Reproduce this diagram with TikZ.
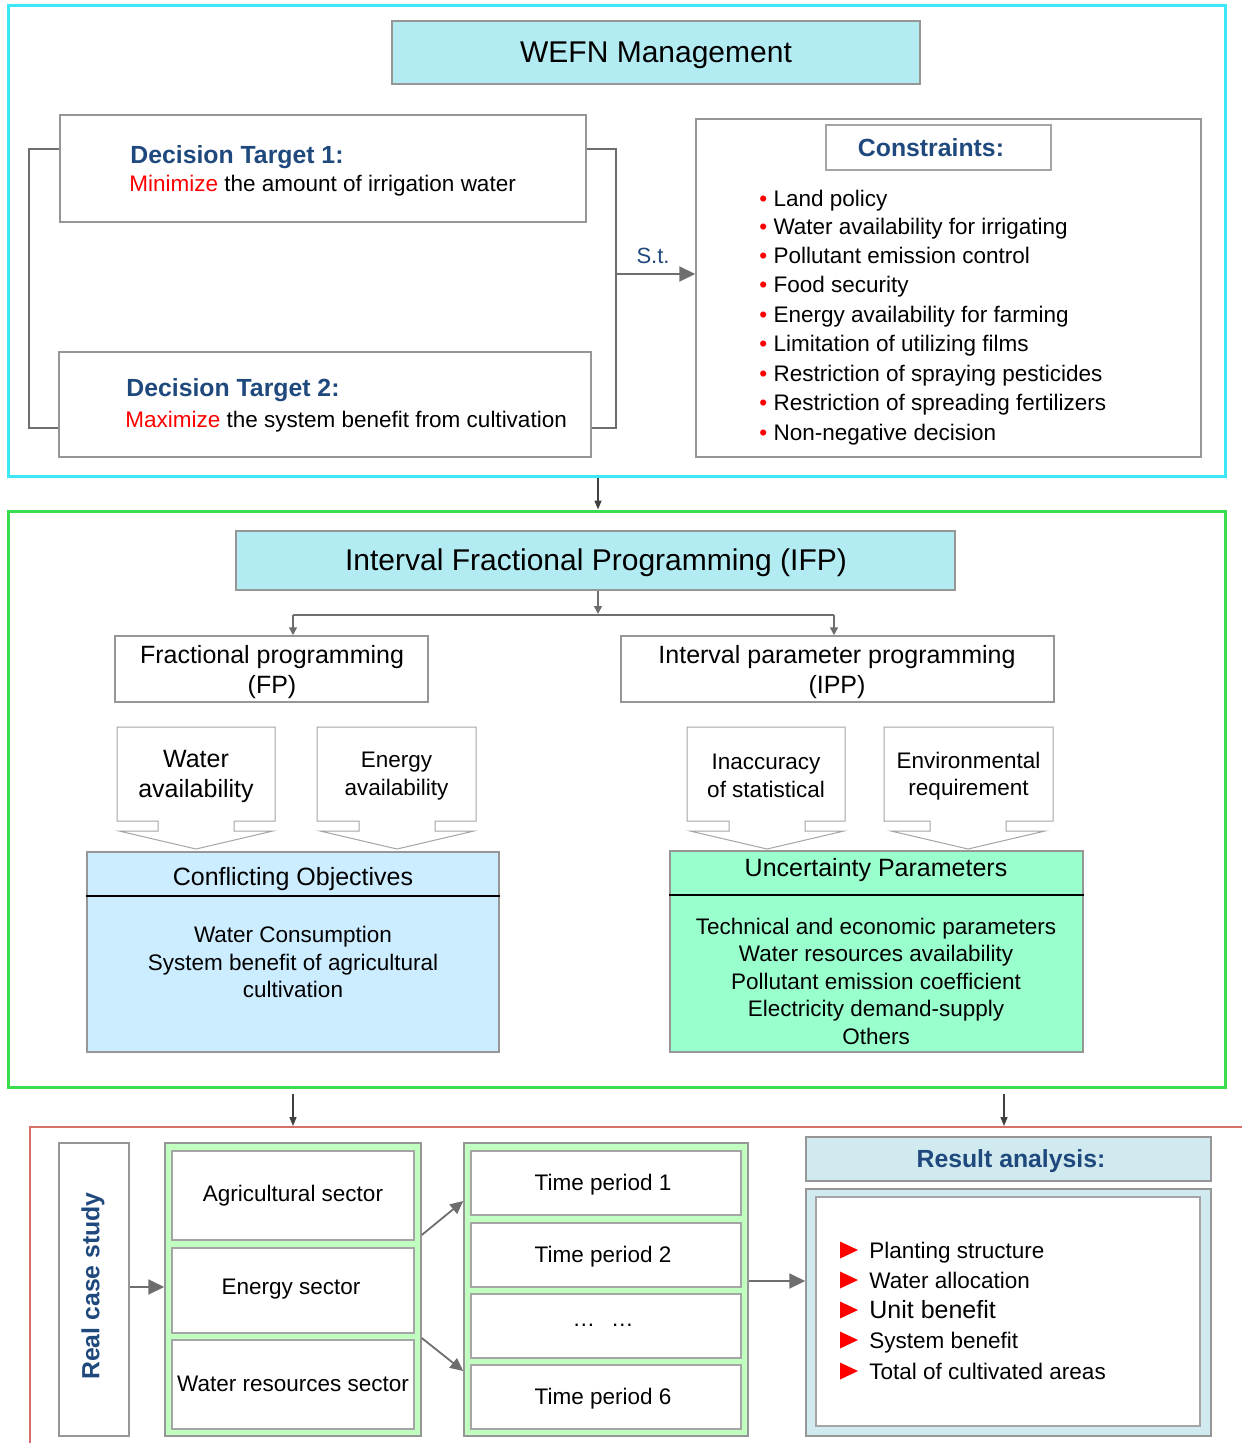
\documentclass[tikz,border=0pt]{standalone}
\usepackage{fontspec}
\setmainfont{Liberation Sans}
\usetikzlibrary{arrows.meta,fit,calc}
\definecolor{cyanline}{RGB}{60,232,245}
\definecolor{greenline}{RGB}{60,220,80}
\definecolor{redline}{RGB}{214,112,104}
\definecolor{lcyan}{RGB}{178,235,242}
\definecolor{dblue}{RGB}{31,73,125}
\definecolor{bgray}{RGB}{150,150,150}
\definecolor{cgray}{RGB}{165,165,165}
\definecolor{agray}{RGB}{110,110,110}
\definecolor{dgray}{RGB}{64,64,64}
\definecolor{lblue}{RGB}{204,236,255}
\definecolor{mint}{RGB}{153,255,204}
\definecolor{lgreen}{RGB}{192,255,192}
\definecolor{rbg}{RGB}{209,234,240}
\tikzset{
  frame/.style={line width=1.5pt, inner sep=0pt},
  box/.style={draw=bgray, line width=0.75pt, inner sep=0pt},
  ibox/.style={draw=cgray, line width=0.6pt, fill=white, inner sep=0pt},
  cbox/.style={draw=cgray, line width=0.5pt, fill=white},
  t11/.style={font=\fontsize{11.25}{13.75}\selectfont, align=center, inner sep=0pt},
  t12/.style={font=\fontsize{12.5}{15}\selectfont, align=center, inner sep=0pt},
  t15/.style={font=\fontsize{15}{18}\selectfont, align=center, inner sep=0pt},
  tb/.style={font=\fontsize{12.4}{15}\selectfont\bfseries, text=dblue, inner sep=0pt},
  s11/.style={t11, text height=8.06pt, text depth=0pt},
  s12/.style={t12, text height=8.95pt, text depth=0pt},
  s15/.style={t15, text height=10.74pt, text depth=0pt},
  sb/.style={tb, text height=8.88pt, text depth=0pt},
  garrow/.style={draw=agray, line width=0.75pt, -{Triangle[length=4pt,width=4pt]}},
  darrow/.style={draw=dgray, line width=0.75pt, -{Triangle[length=4.5pt,width=3.5pt]}},
  barrow/.style={draw=agray, line width=1pt, -{Triangle[length=8pt,width=7.5pt]}},
  marrow/.style={draw=agray, line width=0.9pt, -{Triangle[length=6.5pt,width=6pt]}},
  gline/.style={draw=agray, line width=0.75pt},
}
\newcommand\mycallout[6]{%
  \draw[cbox] (#2,727) -- (#3,727) -- (#3,821) -- ({#4+38},821) -- ({#4+38},831)
    -- ({#4+77},831) -- (#4,849) -- ({#4-77},831) -- ({#4-38},831) -- ({#4-38},821)
    -- (#2,821) -- cycle;
  \node[#5] (#1) at ({(#2+#3)/2},776) {#6};
}
\begin{document}
\begin{tikzpicture}[x=0.5pt,y=-0.5pt]
\useasboundingbox (0,0) rectangle (1241,1443);

% ---------- top section ----------
\node[frame, draw=cyanline, fit={(8,6)(1225,476)}] (top) {};
\node[box, fill=lcyan, fit={(392,21)(920,84)}] (wefn) {};
\node[s15] (wefnt) at (656,52) {WEFN Management};

\node[box, fit={(60,115)(586,222)}] (dt1) {};
\node[sb, anchor=west] (dt1a) at (130,155) {Decision Target 1:};
\node[s11, anchor=west] (dt1b) at (129,183) {\textcolor{red}{Minimize} the amount of irrigation water};

\node[box, fit={(59,352)(591,457)}] (dt2) {};
\node[sb, anchor=west] (dt2a) at (126,388) {Decision Target 2:};
\node[s11, anchor=west] (dt2b) at (125,419) {\textcolor{red}{Maximize} the system benefit from cultivation};

\coordinate (b1) at (29,149);
\coordinate (b2) at (29,428);
\coordinate (b3) at (616,149);
\coordinate (b4) at (616,428);
\coordinate (st) at (616,274);
\draw[gline] (dt1.west |- b1) -- (b1) -- (b2) -- (dt2.west |- b2);
\draw[gline] (dt1.east |- b3) -- (b3) -- (b4) -- (dt2.east |- b4);

\node[box, fit={(696,119)(1201,457)}] (cons) {};
\node[box, draw=cgray, fit={(826,125)(1051,170)}] (ctitle) {};
\node[sb] (ctitlet) at (931,148) {Constraints:};
\draw[barrow] (st) -- (cons.west |- st);
\node[font=\fontsize{11}{13}\selectfont, text=dblue, inner sep=0pt, text height=7.9pt, text depth=0pt] (stl) at (653,256) {S.t.};

\foreach \yy/\txt [count=\i] in {198/Land policy, 226/Water availability for irrigating,
  255/Pollutant emission control, 284/Food security, 314/Energy availability for farming,
  343/Limitation of utilizing films, 373/Restriction of spraying pesticides,
  402/Restriction of spreading fertilizers, 432/Non-negative decision}
  \node[s11, anchor=west] (c\i) at (759,\yy) {\textcolor{red}{•} \txt};

% ---------- middle section ----------
\coordinate (mx) at (598,0);
\node[frame, draw=greenline, fit={(8,511)(1225,1087)}] (mid) {};
\draw[darrow] (top.south -| mx) -- (mid.north -| mx);

\node[box, fill=lcyan, fit={(236,531)(955,590)}] (ifp) {};
\node[s15] (ifpt) at (596,560) {Interval Fractional Programming (IFP)};

\node[box, fit={(115,636)(428,702)}] (fp) {};
\node[t12] (fpt) at (272,672) {Fractional programming\\(FP)};
\node[box, fit={(621,636)(1054,702)}] (ipp) {};
\node[t12] (ippt) at (837,672) {Interval parameter programming\\(IPP)};

\coordinate (j) at (598,614);
\coordinate (jl) at (293,615);
\coordinate (jr) at (834,615);
\draw[garrow] (ifp.south -| j) -- (j);
\draw[gline] (jl) -- (jr);
\draw[garrow] (jl) -- (fp.north -| jl);
\draw[garrow] (jr) -- (ipp.north -| jr);

\mycallout{wa}{117}{275}{196}{t12}{Water\\availability}
\mycallout{ea}{317}{476}{397}{t11}{Energy\\availability}
\mycallout{ia}{687}{845}{767}{t11}{Inaccuracy\\of statistical}
\mycallout{er}{884}{1053}{968}{t11}{Environmental\\requirement}

\node[box, fill=lblue, fit={(87,852)(499,1052)}] (co) {};
\draw[black, line width=0.9pt] (co.west |- 0,896) -- (co.east |- 0,896);
\node[s12] (cot) at (293,877) {Conflicting Objectives};
\node[t11] (cob) at (293,962) {Water Consumption\\System benefit of agricultural\\cultivation};

\node[box, fill=mint, fit={(670,851)(1083,1052)}] (up) {};
\draw[black, line width=0.9pt] (up.west |- 0,895) -- (up.east |- 0,895);
\node[s12] (upt) at (876,868) {Uncertainty Parameters};
\node[t11] (upb) at (876,981) {Technical and economic parameters\\Water resources availability\\Pollutant emission coefficient\\Electricity demand-supply\\Others};

% ---------- bottom section ----------
\draw[redline, line width=1.25pt] (30,1447) -- (30,1127) -- (1245,1127);
\coordinate (g1) at (293,1094);
\coordinate (r1) at (293,1126);
\coordinate (g2) at (1004,1094);
\coordinate (r2) at (1004,1126);
\draw[darrow] (g1) -- (r1);
\draw[darrow] (g2) -- (r2);

\node[box, fit={(59,1143)(129,1436)}] (rcs) {};
\node[tb, rotate=90] (rcst) at (93,1286) {Real case study};

\node[box, fill=lgreen, fit={(165,1143)(421,1436)}] (sec) {};
\node[ibox, fit={(172,1151)(414,1240)}] (s1) {};
\node[ibox, fit={(172,1248)(414,1333)}] (s2) {};
\node[ibox, fit={(172,1340)(414,1429)}] (s3) {};
\node[s11] (s1t) at (293,1193) {Agricultural sector};
\node[s11] (s2t) at (291,1286) {Energy sector};
\node[s11] (s3t) at (293,1383) {Water resources sector};

\node[box, fill=lgreen, fit={(464,1143)(748,1436)}] (tim) {};
\node[ibox, fit={(471,1151)(741,1215)}] (t1) {};
\node[ibox, fit={(471,1223)(741,1287)}] (t2) {};
\node[ibox, fit={(471,1294)(741,1358)}] (t3) {};
\node[ibox, fit={(471,1365)(741,1429)}] (t4) {};
\node[s11] (t1t) at (603,1182) {Time period 1};
\node[s11] (t2t) at (603,1254) {Time period 2};
\node[t11] (t3t) at (603,1325) {…\hspace{8pt}…};
\node[s11] (t4t) at (603,1396) {Time period 6};

\node[box, fill=rbg, fit={(806,1137)(1211,1181)}] (rh) {};
\node[sb] (rht) at (1011,1159) {Result analysis:};
\node[box, fill=rbg, fit={(806,1189)(1211,1436)}] (rb) {};
\node[ibox, fit={(816,1197)(1200,1426)}] (rbi) {};
\foreach \yy/\txt/\st [count=\i] in {1250/Planting structure/s11, 1280/Water allocation/s11,
  1310/Unit benefit/s12, 1340/System benefit/s11, 1371/Total of cultivated areas/s11}{
  \fill[red] (840,\yy-8.5) -- (858,\yy) -- (840,\yy+8.5) -- cycle;
  \node[\st, anchor=west] (r\i) at (869,\yy) {\txt};
}

\draw[barrow] (rcs.east |- 0,1287) -- (sec.west |- 0,1287);
\draw[marrow] (sec.east |- 0,1235) -- (tim.west |- 0,1201);
\draw[marrow] (sec.east |- 0,1338) -- (tim.west |- 0,1371);
\draw[barrow] (tim.east |- 0,1281) -- (rb.west |- 0,1281);
\end{tikzpicture}
\end{document}
